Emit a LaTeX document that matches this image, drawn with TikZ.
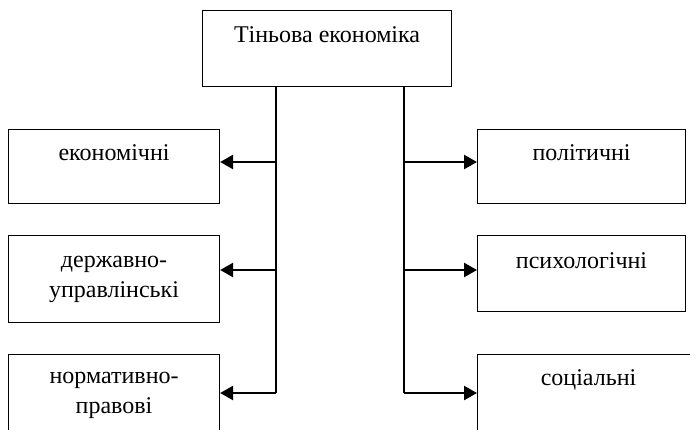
\documentclass[tikz,border=0pt]{standalone}
\usepackage{fontspec}
\setmainfont{Liberation Serif}
\usetikzlibrary{arrows.meta}
\tikzset{>={Triangle[length=13bp,width=14bp]}}
\tikzset{
    box/.style={draw, line width=1.1bp, inner sep=0pt, align=center, anchor=north west,
        font=\fontsize{24bp}{30bp}\selectfont},
    trunk/.style={line width=1.3bp},
    link/.style={line width=2.4bp, ->}
}

\begin{document}
\begin{tikzpicture}[x=1bp, y=-1bp]
            \useasboundingbox (0, 0) rectangle (690, 429);
            \clip (0, 0) rectangle (690, 429);

            \node[box, minimum width=249bp, text height=32bp, text depth=44bp] (top) at (202, 10) {Тіньова економіка};

            \node[box, minimum width=211bp, text height=31bp, text depth=43bp] (econ) at (8, 129) {економічні};
            \node[box, minimum width=211bp, text height=62bp, text depth=25bp] (derzh) at (8, 235) {державно-\\управлінські};
            \node[box, minimum width=211bp, text height=59bp, text depth=70bp] (norm) at (8, 354) {нормативно-\\правові};

            \node[box, minimum width=208bp, text height=31bp, text depth=43bp] (polit) at (477, 129) {політичні};
            \node[box, minimum width=208bp, text height=33bp, text depth=43bp] (psych) at (477, 235) {психологічні};
            \node[box, minimum width=222bp, text height=31bp, text depth=90bp] (soc) at (477, 354) {соціальні};

            \coordinate (lt) at ([xshift=74bp]top.south west);
            \coordinate (rt) at ([xshift=202bp]top.south west);
            \coordinate (lb) at (lt |- 0, 393);
            \coordinate (rb) at (rt |- 0, 393);

            \draw[trunk] (lt) -- (lb);
            \draw[trunk] (rt) -- (rb);

            \foreach \n/\y in {econ/162, derzh/270, norm/393} {
                \draw[link] (lt |- 0, \y) -- (\n.east |- 0, \y);
            }
            \foreach \n/\y in {polit/162, psych/270, soc/393} {
                \draw[link] (rt |- 0, \y) -- (\n.west |- 0, \y);
            }
        \end{tikzpicture}
\end{document}
